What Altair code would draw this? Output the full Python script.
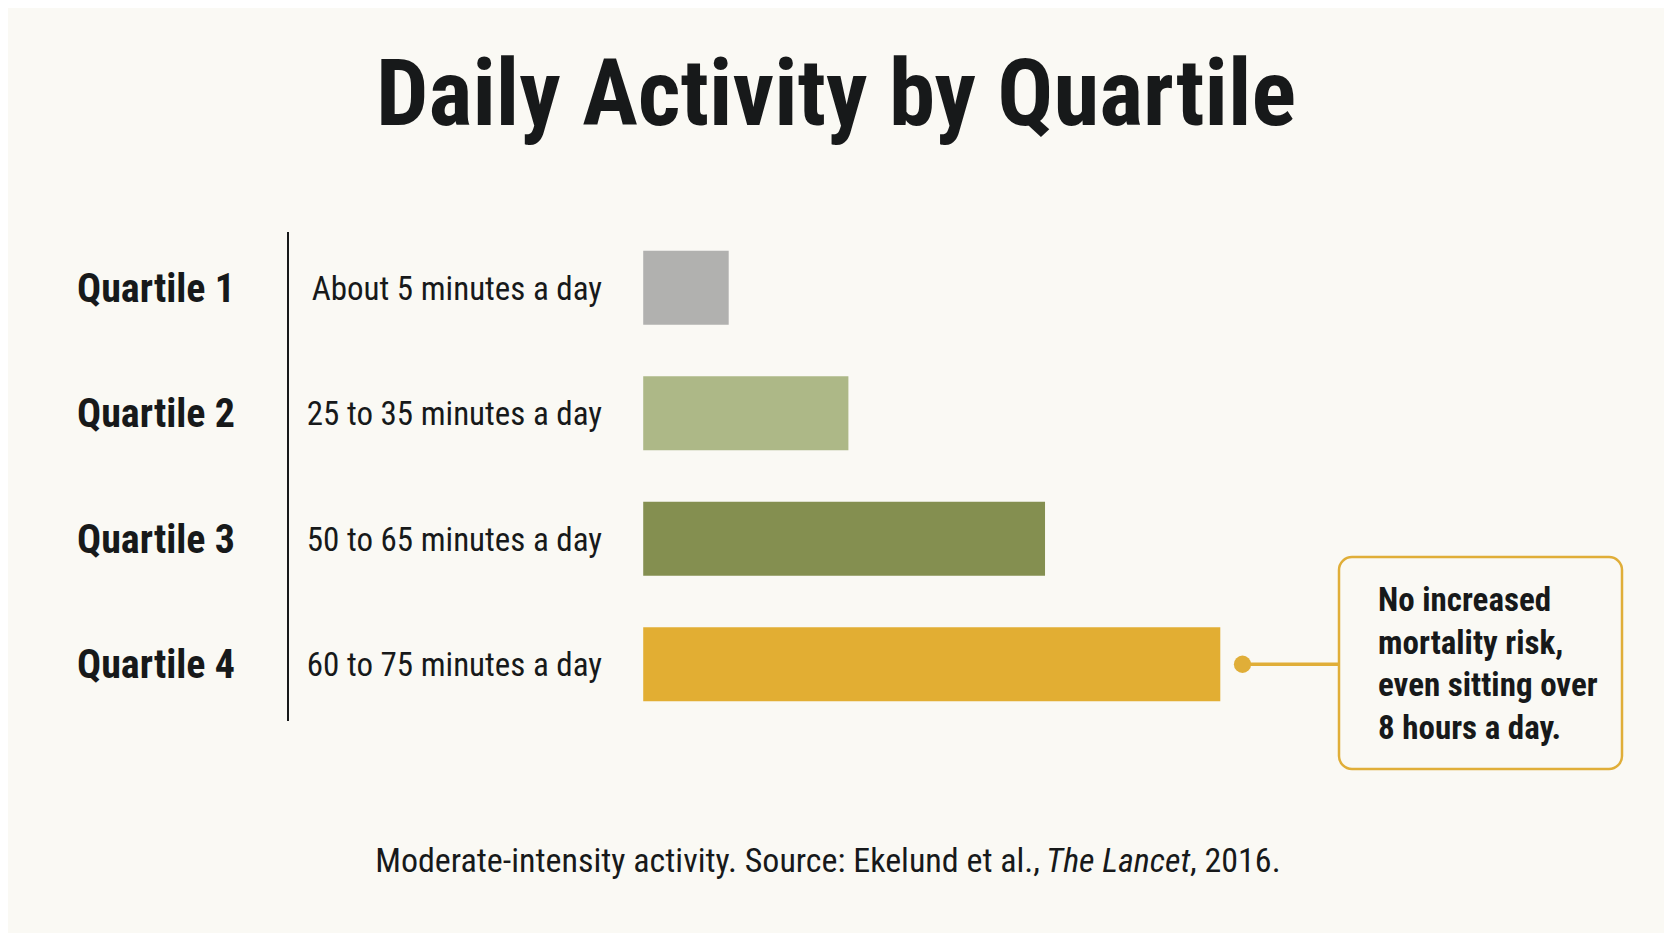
import altair as alt
import pandas as pd

# rows of the chart
quartiles = ["Quartile 1", "Quartile 2", "Quartile 3", "Quartile 4"]
ranges = ["About 5 minutes a day", "25 to 35 minutes a day",
          "50 to 65 minutes a day", "60 to 75 minutes a day"]
minutes = [10, 24, 47, 67.5]   # bar lengths as drawn, in minutes
bar_colors = ["#B1B1AF", "#ADB887", "#848F50", "#E2AE33"]

title_text = "Daily Activity by Quartile"
note_lines = ["No increased", "mortality risk,", "even sitting over", "8 hours a day."]
source_parts = ["Moderate-intensity activity. Source: Ekelund et al.,", "The Lancet", ", 2016."]

W, H = 1656, 925
BG = "#FAF9F4"
INK = "#17191A"
GOLD = "#E0AE38"
FONT = ('"Roboto Condensed", "Noto Sans Condensed", "Liberation Sans Narrow", '
        '"DejaVu Sans Condensed", sans-serif')

df = pd.DataFrame({"quartile": quartiles, "range": ranges, "minutes": minutes})
one = pd.DataFrame({"k": [0]})

x_scale = alt.Scale(domain=[-74.3, 119.4], nice=False, zero=False)
y_enc = alt.Y("quartile:N", axis=None,
              scale=alt.Scale(domain=quartiles, range=[217, 719], paddingInner=0, paddingOuter=0))

base = alt.Chart(df)

bars = base.mark_bar(height=74).encode(
    x=alt.X("minutes:Q", axis=None, scale=x_scale),
    x2=alt.datum(0),
    y=y_enc,
    color=alt.Color("quartile:N", scale=alt.Scale(domain=quartiles, range=bar_colors), legend=None),
)

labels = base.mark_text(align="left", baseline="alphabetic", dy=14, font=FONT,
                        fontWeight="bold", fontSize=40, color=INK).encode(
    x=alt.value(69), y=y_enc, text="quartile:N")

sublabels = base.mark_text(align="right", baseline="alphabetic", dy=12, font=FONT,
                           fontSize=33, color=INK).encode(
    x=alt.value(594), y=y_enc, text="range:N")

divider = alt.Chart(one).mark_rule(color=INK, strokeWidth=2).encode(
    x=alt.value(280), y=alt.value(224), y2=alt.value(713))

q4 = base.transform_filter(alt.datum.quartile == "Quartile 4").transform_calculate(
    tip="datum.minutes + 2.6")

connector = q4.mark_rule(color=GOLD, strokeWidth=3.5).encode(
    x=alt.X("tip:Q", axis=None, scale=x_scale), x2=alt.value(1331), y=y_enc)

dot = q4.mark_circle(size=300, color=GOLD, opacity=1).encode(
    x=alt.X("tip:Q", axis=None, scale=x_scale), y=y_enc)

box = alt.Chart(one).mark_rect(cornerRadius=13, fill=BG, stroke=GOLD, strokeWidth=2.5).encode(
    x=alt.value(1331), x2=alt.value(1614), y=alt.value(549), y2=alt.value(761))

note = alt.Chart(one).mark_text(text=note_lines, align="left", baseline="alphabetic",
                                lineHeight=42.5, font=FONT, fontSize=33,
                                fontWeight="bold", color=INK).encode(
    x=alt.value(1370), y=alt.value(603))

title = alt.Chart(one).mark_text(text=title_text, align="center", baseline="alphabetic",
                                 font=FONT, fontSize=93, fontWeight="bold", color=INK).encode(
    x=alt.value(828), y=alt.value(117))

src1 = alt.Chart(one).mark_text(text=source_parts[0], align="right", baseline="alphabetic",
                                font=FONT, fontSize=34, color=INK).encode(
    x=alt.value(1032), y=alt.value(864))
src2 = alt.Chart(one).mark_text(text=source_parts[1], align="left", baseline="alphabetic",
                                font=FONT, fontSize=34, fontStyle="italic", color=INK).encode(
    x=alt.value(1038), y=alt.value(864))
src3 = alt.Chart(one).mark_text(text=source_parts[2], align="left", baseline="alphabetic",
                                font=FONT, fontSize=34, color=INK).encode(
    x=alt.value(1182), y=alt.value(864))

chart = alt.layer(
    bars, divider, labels, sublabels, connector, dot, box, note, title, src1, src2, src3
).properties(
    width=W, height=H, padding=0, background=BG,
    autosize=alt.AutoSizeParams(type="none"),
).configure_view(stroke=None)

chart.save("out.html", embed_options={"renderer": "svg", "actions": False})
